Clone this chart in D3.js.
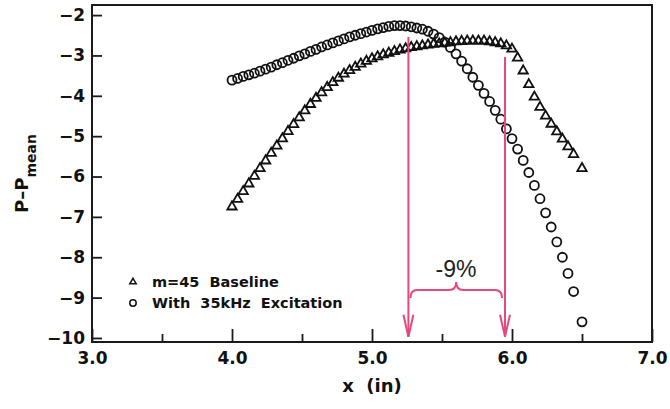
<!DOCTYPE html>
<html>
<head>
<meta charset="utf-8">
<title>P - Pmean vs x</title>
<script src="https://cdn.jsdelivr.net/npm/d3@7"></script>
<style>
  body { margin: 0; background: #fff; }
  svg { display: block; }
  .tick text { font-family: "DejaVu Sans", sans-serif; font-weight: bold; font-size: 17px; fill: #111; }
  .tick line { stroke: #1a1a1a; stroke-width: 1.8px; }
  .axis-title { font-family: "DejaVu Sans", sans-serif; font-weight: bold; fill: #111; white-space: pre; }
  .legend text { font-family: "DejaVu Sans", sans-serif; font-weight: bold; font-size: 14.5px; fill: #111; white-space: pre; }
  .pink { stroke: #e8487c; stroke-width: 2px; fill: none; }
</style>
</head>
<body>
<div id="chart"></div>
<script>
// x positions of the measurement stations (in)
var xVals = [4.00, 4.04, 4.08, 4.12, 4.16, 4.20, 4.24, 4.28, 4.32, 4.36,
             4.40, 4.44, 4.48, 4.52, 4.56, 4.60, 4.64, 4.68, 4.72, 4.76,
             4.80, 4.84, 4.88, 4.92, 4.96, 5.00, 5.04, 5.08, 5.12, 5.16,
             5.20, 5.24, 5.28, 5.32, 5.36, 5.40, 5.44, 5.48, 5.52, 5.56,
             5.60, 5.64, 5.68, 5.72, 5.76, 5.80, 5.84, 5.88, 5.92, 5.96,
             6.00, 6.04, 6.08, 6.12, 6.16, 6.20, 6.24, 6.28, 6.32, 6.36,
             6.40, 6.44, 6.50];

// m=45 Baseline (triangles)
var baseline = [-6.75, -6.56, -6.37, -6.18, -5.99, -5.80, -5.61, -5.42, -5.24, -5.06,
                -4.88, -4.71, -4.54, -4.37, -4.21, -4.06, -3.92, -3.79, -3.67, -3.56,
                -3.46, -3.37, -3.29, -3.21, -3.14, -3.08, -3.03, -2.98, -2.94, -2.90,
                -2.86, -2.83, -2.80, -2.78, -2.76, -2.74, -2.72, -2.71, -2.69, -2.68,
                -2.66, -2.65, -2.64, -2.64, -2.64, -2.64, -2.66, -2.68, -2.71, -2.76,
                -2.84, -3.06, -3.38, -3.72, -4.03, -4.28, -4.50, -4.70, -4.89, -5.07,
                -5.26, -5.45, -5.80];

// With 35kHz Excitation (circles)
var excited = [-3.61, -3.57, -3.52, -3.48, -3.44, -3.39, -3.34, -3.29, -3.23, -3.18,
               -3.12, -3.07, -3.01, -2.96, -2.90, -2.85, -2.79, -2.74, -2.69, -2.64,
               -2.59, -2.54, -2.50, -2.46, -2.42, -2.38, -2.34, -2.31, -2.28, -2.26,
               -2.26, -2.27, -2.29, -2.32, -2.35, -2.40, -2.47, -2.56, -2.67, -2.80,
               -2.96, -3.14, -3.33, -3.54, -3.74, -3.94, -4.14, -4.36, -4.58, -4.82,
               -5.06, -5.32, -5.60, -5.90, -6.22, -6.55, -6.90, -7.25, -7.62, -8.00,
               -8.40, -8.85, -9.60];

var xTicks = [3, 4, 5, 6, 7];
var xMinorTicks = [3.5, 4.5, 5.5, 6.5];
var yTicks = [-2, -3, -4, -5, -6, -7, -8, -9, -10];
var legendLabels = ["m=45  Baseline", "With  35kHz  Excitation"];

// annotation: two arrows and the brace between them
var arrowX = [5.26, 5.95];
var arrowTop = [-2.54, -3.04];
var arrowBottom = -9.97;
var braceY = -8.81;
var braceLabel = "-9%";
var braceLabelX = 5.6, braceLabelY = -8.49;

var width = 670, height = 409;

var svg = d3.select("#chart").append("svg")
    .attr("width", width)
    .attr("height", height);

var x = d3.scaleLinear().domain([3, 7]).range([92, 652]);
var y = d3.scaleLinear().domain([-10.1, -1.75]).range([342, 5]);

// x axis, major and minor ticks pointing inward
var xAxis = svg.append("g")
    .attr("transform", "translate(0," + y(-10.1) + ")")
    .call(d3.axisBottom(x).tickValues(xTicks).tickFormat(d3.format(".1f"))
        .tickSizeInner(-13).tickSizeOuter(0).tickPadding(10));
xAxis.select(".domain").remove();

var xMinor = svg.append("g")
    .attr("transform", "translate(0," + y(-10.1) + ")")
    .call(d3.axisBottom(x).tickValues(xMinorTicks).tickFormat("")
        .tickSizeInner(-8).tickSizeOuter(0));
xMinor.select(".domain").remove();

var yAxis = svg.append("g")
    .attr("transform", "translate(" + x(3) + ",0)")
    .call(d3.axisLeft(y).tickValues(yTicks).tickFormat(d3.format("d"))
        .tickSizeInner(-10).tickSizeOuter(0).tickPadding(7));
yAxis.select(".domain").remove();

// frame
svg.append("rect")
    .attr("x", x(3))
    .attr("y", y(-1.75))
    .attr("width", x(7) - x(3))
    .attr("height", y(-10.1) - y(-1.75))
    .attr("fill", "none")
    .attr("stroke", "#1a1a1a")
    .attr("stroke-width", 2);

// axis titles
svg.append("text")
    .attr("class", "axis-title")
    .attr("x", (x(3) + x(7)) / 2)
    .attr("y", 392)
    .attr("text-anchor", "middle")
    .style("font-size", "18px")
    .text("x  (in)");

var yTitle = svg.append("text")
    .attr("class", "axis-title")
    .attr("transform", "translate(28," + (y(-1.75) + y(-10.1)) / 2 + ") rotate(-90)")
    .attr("text-anchor", "middle")
    .style("font-size", "18px");
yTitle.append("tspan").text("P\u2013P");
yTitle.append("tspan").attr("dy", 8).style("font-size", "14px").text("mean");

// data
var tri = d3.symbol(d3.symbolTriangle, 38);

svg.append("g")
    .selectAll("path")
    .data(xVals.map(function (v, i) { return [v, baseline[i]]; }))
    .join("path")
    .attr("d", tri)
    .attr("transform", function (d) { return "translate(" + x(d[0]) + "," + y(d[1]) + ")"; })
    .attr("fill", "none")
    .attr("stroke", "#111")
    .attr("stroke-width", 1.8);

svg.append("g")
    .selectAll("circle")
    .data(xVals.map(function (v, i) { return [v, excited[i]]; }))
    .join("circle")
    .attr("cx", function (d) { return x(d[0]); })
    .attr("cy", function (d) { return y(d[1]); })
    .attr("r", 4.5)
    .attr("fill", "none")
    .attr("stroke", "#111")
    .attr("stroke-width", 1.8);

// legend
var legend = svg.append("g").attr("class", "legend");
legend.append("path")
    .attr("d", d3.symbol(d3.symbolTriangle, 18))
    .attr("transform", "translate(133,282)")
    .attr("fill", "none").attr("stroke", "#111").attr("stroke-width", 1.5);
legend.append("circle")
    .attr("cx", 133).attr("cy", 303).attr("r", 3.2)
    .attr("fill", "none").attr("stroke", "#111").attr("stroke-width", 1.5);
legend.selectAll("text")
    .data(legendLabels)
    .join("text")
    .attr("x", 152)
    .attr("y", function (d, i) { return 287 + i * 21; })
    .text(function (d) { return d; });

// arrows
var ann = svg.append("g");
arrowX.forEach(function (ax, i) {
    var px = x(ax), tip = y(arrowBottom);
    ann.append("line").attr("class", "pink")
        .attr("x1", px).attr("x2", px)
        .attr("y1", y(arrowTop[i])).attr("y2", tip);
    ann.append("path").attr("class", "pink")
        .attr("d", "M" + (px - 5) + "," + (tip - 22) + "L" + px + "," + tip + "L" + (px + 5) + "," + (tip - 22));
});

// brace
var l = x(arrowX[0]) + 2, r = x(arrowX[1]) - 3, m = (l + r) / 2, yb = y(braceY);
var bp = d3.path();
bp.moveTo(l, yb + 8);
bp.quadraticCurveTo(l, yb, l + 7, yb);
bp.lineTo(m - 7, yb);
bp.quadraticCurveTo(m, yb, m, yb - 8);
bp.quadraticCurveTo(m, yb, m + 7, yb);
bp.lineTo(r - 7, yb);
bp.quadraticCurveTo(r, yb, r, yb + 8);
ann.append("path").attr("class", "pink").attr("d", bp.toString());

ann.append("text")
    .attr("x", x(braceLabelX))
    .attr("y", y(braceLabelY))
    .attr("text-anchor", "middle")
    .style("font-family", "'Liberation Sans', Arial, sans-serif")
    .style("font-size", "23px")
    .style("fill", "#222")
    .text(braceLabel);
</script>
</body>
</html>
